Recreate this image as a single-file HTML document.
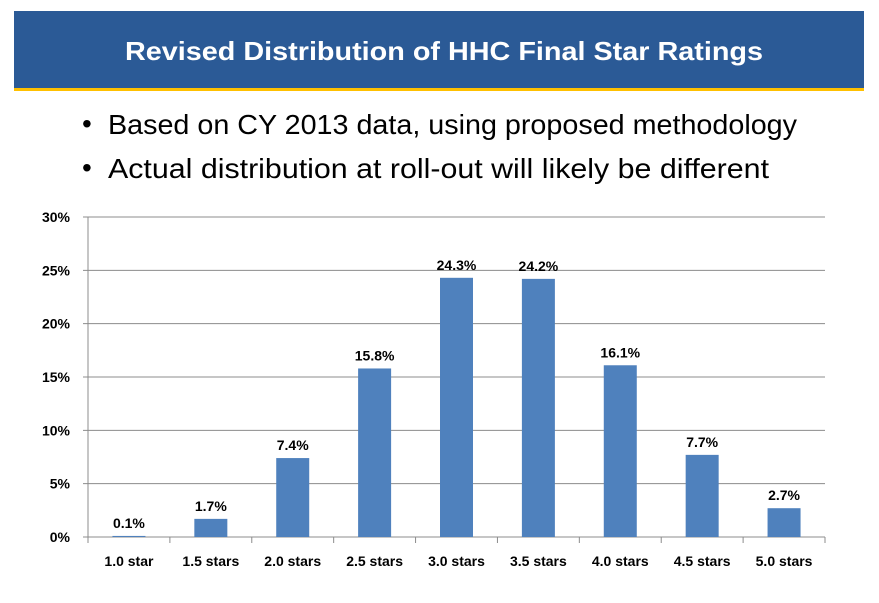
<!DOCTYPE html>
<html><head><meta charset="utf-8"><style>
body{margin:0;background:#fff;}
svg{display:block;font-family:"Liberation Sans",sans-serif;}
</style></head><body>
<svg id="chart" width="879" height="603" xmlns="http://www.w3.org/2000/svg">
<rect x="14" y="11" width="850" height="77" fill="#2b5a96"/>
<rect x="14" y="88" width="850" height="3" fill="#ffc000"/>
<text x="444" y="60" fill="#fff" font-size="26" font-weight="bold" text-anchor="middle" textLength="638" lengthAdjust="spacingAndGlyphs">Revised Distribution of HHC Final Star Ratings</text>
<text x="82" y="133" font-size="28" fill="#000">•</text>
<text x="108" y="134" font-size="28" fill="#000" textLength="689" lengthAdjust="spacingAndGlyphs">Based on CY 2013 data, using proposed methodology</text>
<text x="82" y="177" font-size="28" fill="#000">•</text>
<text x="108" y="178" font-size="28" fill="#000" textLength="661" lengthAdjust="spacingAndGlyphs">Actual distribution at roll-out will likely be different</text>
<g id="plot"></g>
</svg>
<script>
const categories = ["1.0 star","1.5 stars","2.0 stars","2.5 stars","3.0 stars","3.5 stars","4.0 stars","4.5 stars","5.0 stars"];
const values = [0.1,1.7,7.4,15.8,24.3,24.2,16.1,7.7,2.7];
const yTicks = [0,5,10,15,20,25,30];
const yTickLabels = ["0%","5%","10%","15%","20%","25%","30%"];

const NS="http://www.w3.org/2000/svg";
const g=document.getElementById('plot');
const L=88,R=825,T=217,B=537,yMax=30;
const y=v=>B-(v/yMax)*(B-T);
const band=(R-L)/categories.length;
const x=i=>L+band*i;
function mk(tag,attrs,txt){const e=document.createElementNS(NS,tag);for(const k in attrs)e.setAttribute(k,attrs[k]);if(txt!=null)e.textContent=txt;g.appendChild(e);return e;}
yTicks.forEach((t,i)=>{
  const ln=mk('line',{x1:L-5,x2:R,y1:y(t),y2:y(t),stroke:'#8c8c8c','stroke-width':1});
  
  
  const tx=mk('text',{x:70,y:y(t)+5,'text-anchor':'end','font-size':14,'font-weight':'bold',fill:'#000'},yTickLabels[i]);
  
  
});
const ax=mk('line',{x1:L,x2:L,y1:T,y2:B,stroke:'#8c8c8c'});


for(let i=0;i<=categories.length;i++){
  const tk=mk('line',{x1:x(i),x2:x(i),y1:B,y2:B+6,stroke:'#8c8c8c'});
  
  
}
const bw=33;
categories.forEach((c,i)=>{
  const cx=x(i)+band/2;
  const r=mk('rect',{x:cx-bw/2,y:y(values[i]),width:bw,height:Math.max(B-y(values[i]),1),fill:'#4f81bd'});
  
  
  const vl=mk('text',{x:cx,y:y(values[i])-8,'text-anchor':'middle','font-size':14,'font-weight':'bold',fill:'#000'},values[i].toFixed(1)+'%');
  
  
  const cl=mk('text',{x:cx,y:566,'text-anchor':'middle','font-size':14,'font-weight':'bold',fill:'#000'},c);
  
  
});
</script>
</body></html>
